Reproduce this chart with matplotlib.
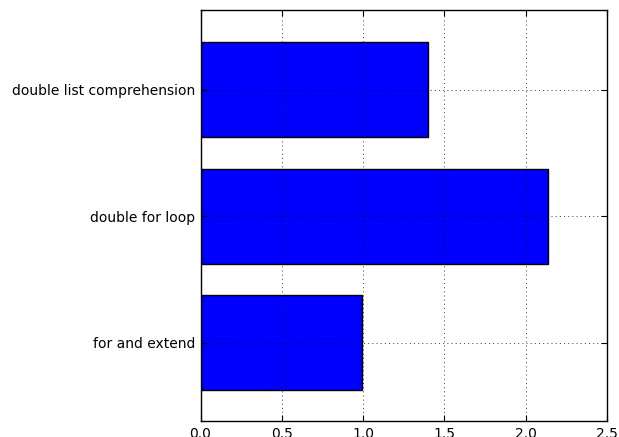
import matplotlib
matplotlib.use("Agg")
import matplotlib.pyplot as plt

categories = ["for and extend", "double for loop", "double list comprehension"]
values = [0.993, 2.135, 1.40]
xticks = [0.0, 0.5, 1.0, 1.5, 2.0, 2.5]

fig = plt.figure(figsize=(6.19, 4.37), dpi=100)
ax = fig.add_axes([200.5/619, (437-421)/437, (607-200.5)/619, (421-10)/437])
pos = list(range(len(categories)))
ax.barh(pos, values, height=0.75, color="#0000ff", edgecolor="black", linewidth=1, zorder=1)
ax.set_yticks(pos)
ax.set_yticklabels(categories, fontsize=10)
ax.set_xticks(xticks)
ax.set_xticklabels([f"{t:.1f}" for t in xticks], fontsize=10)
ax.set_xlim(0, 2.5)
ax.set_ylim(-0.62, 2.63)
ax.set_axisbelow(False)
ax.grid(True, linestyle=(0, (1.5, 4.5)), color="black", linewidth=0.5, zorder=3)
ax.tick_params(direction="in", length=4, top=True, right=True, pad=4)
for s in ax.spines.values():
    s.set_linewidth(1)
fig.savefig("out.png", dpi=100)
